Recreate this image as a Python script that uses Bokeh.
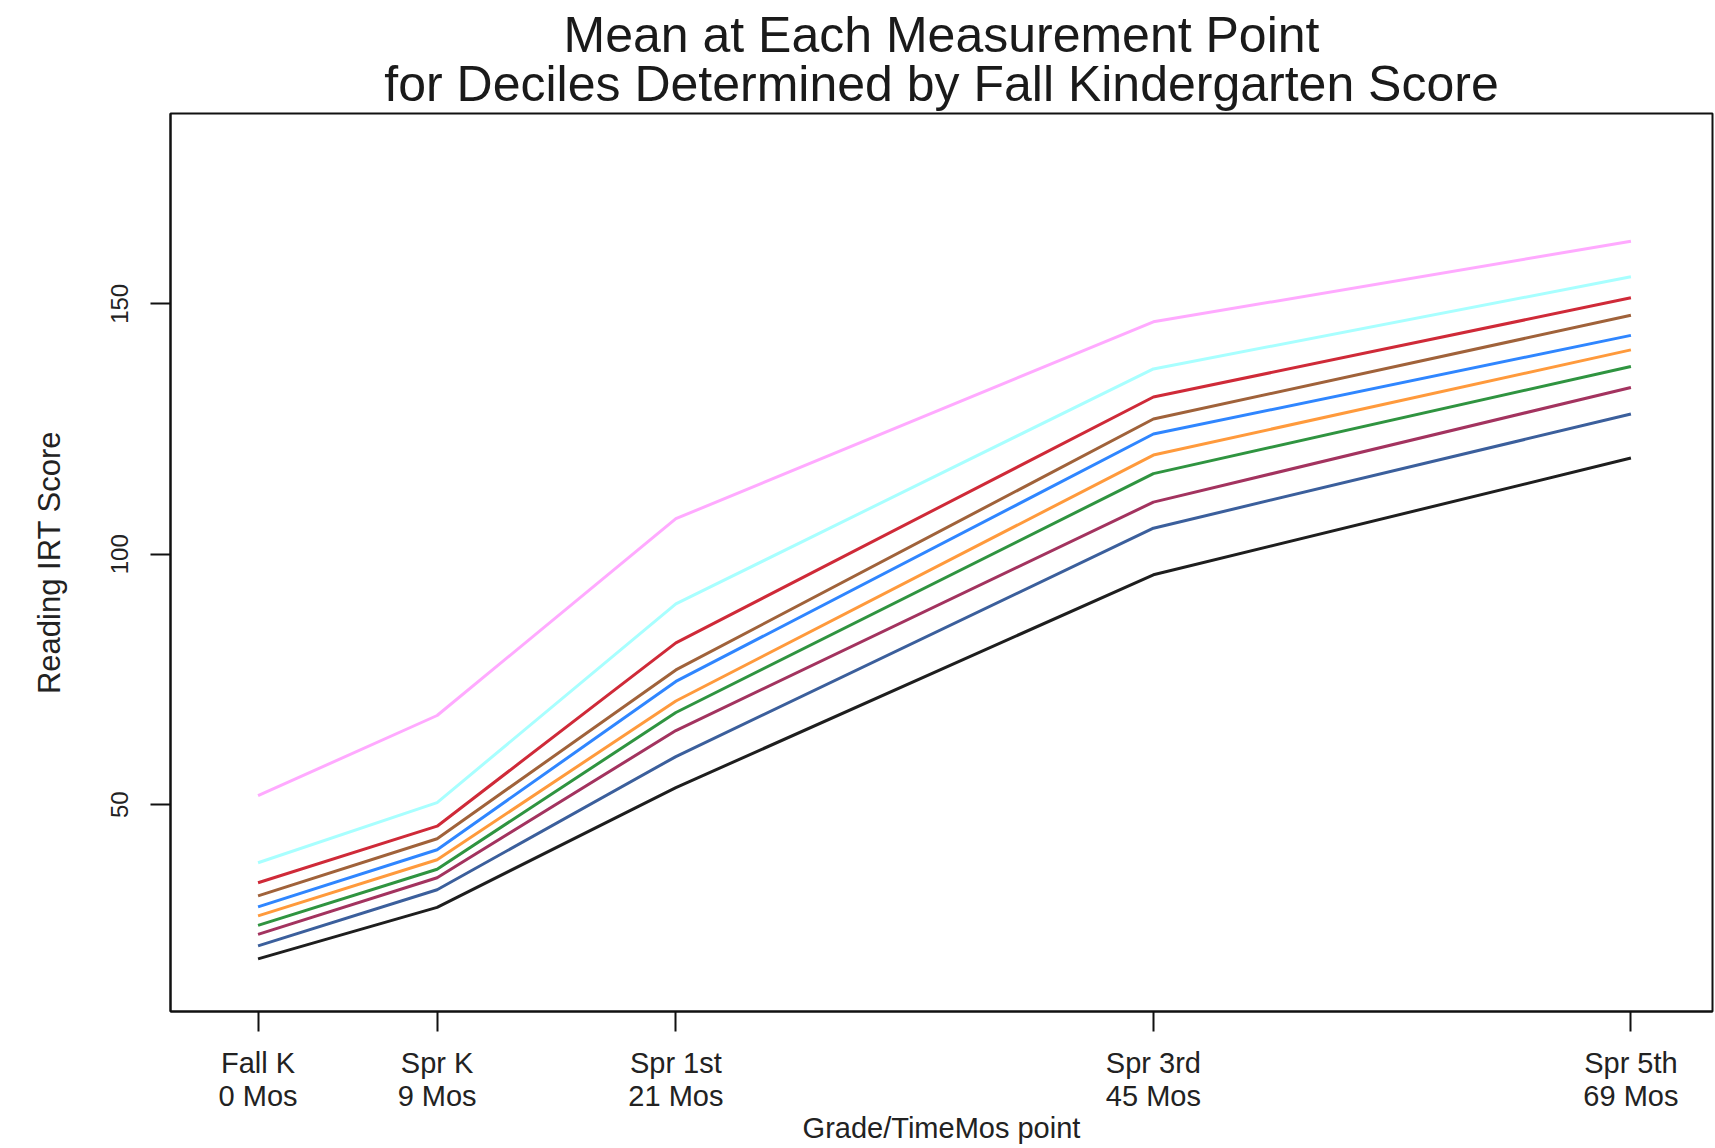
from bokeh.plotting import figure
from bokeh.models import Title, Range1d, FixedTicker
from bokeh.embed import file_html
from bokeh.resources import INLINE

months = [0, 9, 21, 45, 69]
tick_labels = ["Fall K\n0 Mos", "Spr K\n9 Mos", "Spr 1st\n21 Mos", "Spr 3rd\n45 Mos", "Spr 5th\n69 Mos"]

decile_1 = [19.2, 29.5, 53.4, 95.9, 119.2]
decile_2 = [21.8, 33.0, 59.6, 105.2, 128.0]
decile_3 = [24.1, 35.4, 64.8, 110.4, 133.3]
decile_4 = [25.9, 37.1, 68.4, 116.1, 137.5]
decile_5 = [27.8, 39.0, 70.7, 119.8, 140.8]
decile_6 = [29.6, 41.0, 74.6, 124.0, 143.7]
decile_7 = [31.8, 43.2, 76.9, 127.0, 147.7]
decile_8 = [34.4, 45.7, 82.3, 131.4, 151.2]
decile_9 = [38.4, 50.4, 90.1, 137.0, 155.4]
decile_10 = [51.8, 67.8, 107.1, 146.4, 162.5]

series = [decile_1, decile_2, decile_3, decile_4, decile_5,
          decile_6, decile_7, decile_8, decile_9, decile_10]
colors = ["#1e1e1e", "#3b5f9c", "#a3335f", "#2f9440", "#ff9a3c",
          "#2f86ff", "#a0623a", "#cf2a38", "#a8ffff", "#ffaaff"]

FONT = "Liberation Sans"

p = figure(width=1714, height=1148, output_backend="svg", toolbar_location=None,
           x_range=Range1d(-4.4, 73.1), y_range=Range1d(8.7, 188.0),
           min_border_left=170, min_border_right=2, min_border_top=113,
           min_border_bottom=137)
p.title = None

for ys, c in zip(series, colors):
    p.line(months, ys, line_color=c, line_width=3)

p.add_layout(Title(text="for Deciles Determined by Fall Kindergarten Score", align="center",
                   text_font=FONT, text_font_size="50px", text_font_style="normal",
                   text_color="#1a1a1a", standoff=4), "above")
p.add_layout(Title(text="Mean at Each Measurement Point", align="center",
                   text_font=FONT, text_font_size="50px", text_font_style="normal",
                   text_color="#1a1a1a", standoff=-22), "above")

p.grid.visible = False
p.outline_line_color = "#111111"
p.outline_line_width = 2
p.outline_line_alpha = 1

p.xaxis.ticker = FixedTicker(ticks=months)
p.xaxis.major_label_overrides = {m: t for m, t in zip(months, tick_labels)}
p.xaxis.axis_label = "Grade/TimeMos point"
p.yaxis.ticker = FixedTicker(ticks=[50, 100, 150])
p.yaxis.axis_label = "Reading IRT Score"
p.yaxis.major_label_orientation = "vertical"

for ax in (p.xaxis[0], p.yaxis[0]):
    ax.axis_line_color = "#111111"
    ax.axis_line_width = 2
    ax.major_tick_out = 20
    ax.major_tick_in = 0
    ax.major_tick_line_width = 2
    ax.major_tick_line_color = "#111111"
    ax.minor_tick_line_color = None
    ax.major_label_text_font = FONT
    ax.major_label_text_color = "#222222"
    ax.axis_label_text_font = FONT
    ax.axis_label_text_font_style = "normal"
    ax.axis_label_text_color = "#222222"

p.xaxis.major_label_text_font_size = "29px"
p.xaxis.major_label_text_line_height = 1.06
p.xaxis.major_label_standoff = 15
p.xaxis.axis_label_text_font_size = "29px"
p.xaxis.axis_label_standoff = -3
p.yaxis.major_label_text_font_size = "24px"
p.yaxis.major_label_standoff = 22
p.yaxis.axis_label_text_font_size = "31px"
p.yaxis.axis_label_standoff = 42

open("out.html", "w").write(file_html(p, INLINE))
